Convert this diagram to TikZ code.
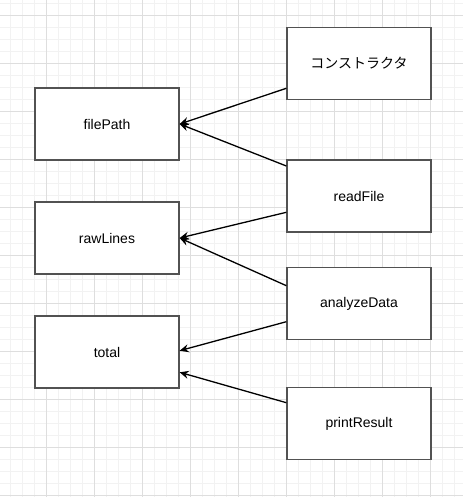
\documentclass[tikz,border=0pt]{standalone}
\usepackage{fontspec}
\setmainfont{Liberation Sans}
\newfontfamily\jpfont{Noto Sans CJK JP}
\usetikzlibrary{arrows.meta,calc}
\begin{document}
\begin{tikzpicture}[x=1pt,y=-1pt,
  box/.style={draw=black!68,line width=1.3pt,fill=white,minimum width=144pt,minimum height=72pt,inner sep=0pt,font=\fontsize{14}{16}\selectfont},
  conn/.style={draw=black,line width=1.3pt,-{Stealth[length=9pt,width=8pt,inset=3pt]}}]
\useasboundingbox (0,0) rectangle (463,497);
\fill[white] (0,0) rectangle (463,497);
% minor grid
\foreach \x in {-1.3,10.7,...,470} \draw[line width=0.8pt,black!5] (\x,0) -- (\x,497);
\foreach \y in {3.3,15.3,...,500} \draw[line width=0.8pt,black!5] (0,\y) -- (463,\y);
% major grid
\foreach \x in {-1.3,46.7,...,470} \draw[line width=0.8pt,black!13] (\x,0) -- (\x,497);
\foreach \y in {15.3,63.3,...,500} \draw[line width=0.8pt,black!13] (0,\y) -- (463,\y);

\node[box] (fp) at (107,124) {filePath};
\node[box] (rl) at (107,238) {rawLines};
\node[box] (tt) at (107,352) {total};
\node[box] (ct) at (359,63.5) {\jpfont コンストラクタ};
\node[box] (rf) at (359,196) {readFile};
\node[box] (ad) at (359,303.5) {analyzeData};
\node[box] (pr) at (359,423.5) {printResult};

\draw[conn] ([yshift=-24.8pt]ct.west) -- (fp.east);
\draw[conn] ([yshift=30pt]rf.west) -- (fp.east);
\draw[conn] ([yshift=-16.3pt]rf.west) -- (rl.east);
\draw[conn] ([yshift=17.8pt]ad.west) -- (rl.east);
\draw[conn] ([yshift=-18.2pt]ad.west) -- ([yshift=1.3pt]tt.east);
\draw[conn] ([yshift=20.8pt]pr.west) -- ([yshift=-20.3pt]tt.east);
\end{tikzpicture}
\end{document}
